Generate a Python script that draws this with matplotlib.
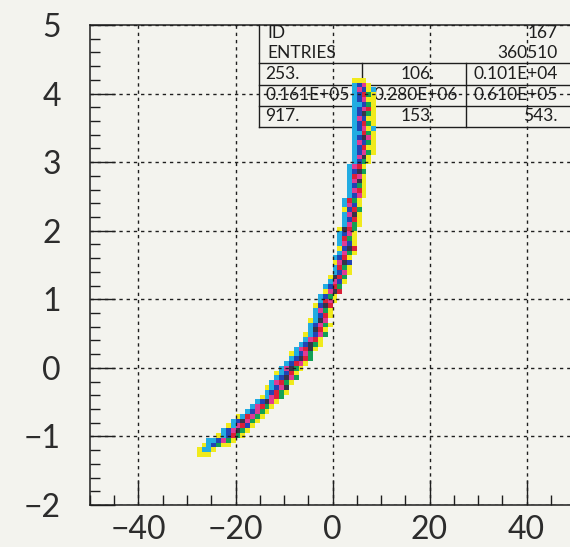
import numpy as np
import matplotlib
matplotlib.use('Agg')
import matplotlib.pyplot as plt
from matplotlib.colors import ListedColormap
from matplotlib.ticker import MultipleLocator

plt.rcParams['font.family'] = ['Lato', 'Liberation Sans', 'DejaVu Sans']

# 2D histogram cells: y-bin index, first x-bin (left edge), colour code per cell
row_bins = list(range(10, 89))
row_start = [-28, -28, -27, -26, -24, -23, -22, -21, -20, -18,
             -17, -16, -15, -14, -14, -13, -12, -12, -11, -10,
             -9, -9, -8, -7, -6, -6, -5, -5, -5, -4,
             -4, -4, -3, -3, -2, -2, -1, -1, 0, 0,
             0, 0, 1, 1, 1, 1, 1, 1, 2, 2,
             2, 2, 2, 2, 3, 3, 3, 3, 3, 3,
             3, 4, 4, 4, 4, 4, 4, 4, 4, 4,
             4, 4, 4, 4, 4, 4, 4, 4, 4]
row_cells = ["YYY", "YCCY", "YCBGYY", "CCBMGY", "YCBRGY", "CBMKGY", "YCMRBY", "CBKMGY", "YCRMGY", "CBMGY",
             "CMRGY", "CBKMY", "YCMRG", "CBRGY", "YCBMK", "CMRGY", "CBKMG", "YCBRY", "CMKGY", "CBRMY",
             "CBKRG", "YCBMG", "CMRKY", "CBKGY", "CMRY", "YCBMG", "CKRY", "CBMGY", "YCKM", "CBRY",
             "CMGY", "YBKR", "CRMY", "CBGY", "YMKR", "CBRG", "CMBY", "YKRG", "CBMY", "CRGY",
             "YMKB", "CBRY", "CMGY", "YBKR", "CMBY", "CRGY", "CBMY", "YKRG", "CMGY", "CBRY",
             "CMKY", "YBRG", "CMBY", "CRGY", "CBMY", "CMRY", "CBGY", "CMKY", "CRMY", "CBKG",
             "CMRY", "CBGY", "CMKY", "CBMGY", "CBRYY", "CMBGY", "CBKMY", "CCRGY", "CBMYC", "CBRGY",
             "CMBYY", "CBKGY", "CBMRY", "CCBGY", "CBMYY", "CBRGY", "CMBYC", "CBMY", "YYY"]

color_codes = "YCGBMRK"
color_hex = ['#f0ea1c', '#22ace2', '#12a056', '#2244b4', '#e03a94', '#dc2038', '#35344a']

# statistics box
stat_names = ['ID', 'ENTRIES']
stat_values = ['167', '360510']
table_rows = [['253.', '106.', '0.101E+04'],
              ['0.161E+05', '0.280E+06', '0.610E+05'],
              ['917.', '153.', '543.']]

x_edges = np.linspace(-50, 50, 101)
y_edges = np.linspace(-2, 5, 101)

H = np.full((100, 100), np.nan)
for j, s, cells in zip(row_bins, row_start, row_cells):
    for k, ch in enumerate(cells):
        H[j, s + 50 + k] = color_codes.index(ch)

bg = '#f3f3ee'
ink = '#1e1e1e'
fig = plt.figure(figsize=(5.7, 5.47), dpi=100, facecolor=bg)
ax = fig.add_axes([90 / 570, 42 / 547, 485 / 570, 480 / 547])
ax.set_facecolor(bg)

ax.pcolormesh(x_edges, y_edges, np.ma.masked_invalid(H), cmap=ListedColormap(color_hex),
              vmin=-0.5, vmax=6.5, zorder=2.2)

ax.set_xlim(-50, 50)
ax.set_ylim(-2, 5)
ax.xaxis.set_major_locator(MultipleLocator(20))
ax.xaxis.set_minor_locator(MultipleLocator(5))
ax.yaxis.set_major_locator(MultipleLocator(1))
ax.yaxis.set_minor_locator(MultipleLocator(0.2))
ax.tick_params(which='both', direction='in', top=False, right=False, color=ink, width=1.0)
ax.tick_params(which='major', length=18, labelsize=23, labelcolor='#2c2c2c')
ax.tick_params(which='minor', length=7)
ax.tick_params(axis='y', which='major', pad=21)
ax.tick_params(axis='x', which='major', pad=7)
for sp in ax.spines.values():
    sp.set_color(ink)
    sp.set_linewidth(1.1)

ax.set_axisbelow(False)
ax.grid(True, which='major', linestyle=(0, (2.4, 2.8)), linewidth=1.0, color=ink)


# stats box, in axes fraction
def fx(px):
    return (px - 90) / 485


def fy(py):
    return (505 - py) / 480


def hline(py, x0, x1):
    ax.plot([fx(x0), fx(x1)], [fy(py), fy(py)], color=ink, lw=1.0,
            transform=ax.transAxes, clip_on=False, zorder=1.5)


def vline(px, y0, y1):
    ax.plot([fx(px), fx(px)], [fy(y0), fy(y1)], color=ink, lw=1.0,
            transform=ax.transAxes, clip_on=False, zorder=1.5)


vline(259, 25, 127)
for py in [63, 85, 106, 127]:
    hline(py, 259, 580)
vline(362, 63, 127)
vline(466, 63, 127)

tkw = dict(transform=ax.transAxes, fontsize=12.5, color=ink, va='center', zorder=1.6)
for name, val, py in zip(stat_names, stat_values, [33, 53]):
    ax.text(fx(267), fy(py), name, ha='left', **tkw)
    ax.text(fx(558), fy(py), val, ha='right', **tkw)

col2_right = [435, 458, 435]
for row, py, c2 in zip(table_rows, [74, 95, 116], col2_right):
    ax.text(fx(265), fy(py), row[0], ha='left', **tkw)
    ax.text(fx(c2), fy(py), row[1], ha='right', **tkw)
    ax.text(fx(558), fy(py), row[2], ha='right', **tkw)

fig.savefig('out.png', dpi=100, facecolor=bg)
